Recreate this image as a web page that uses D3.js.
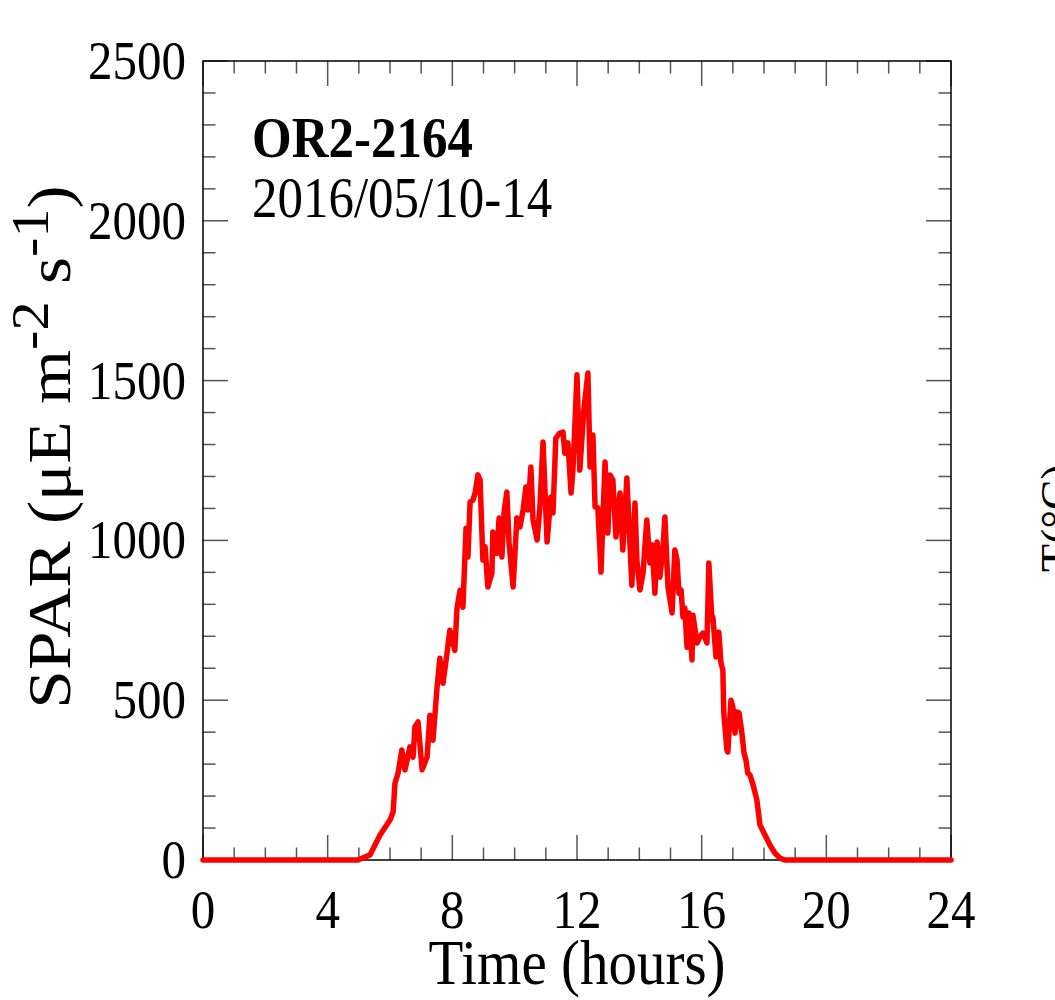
<!DOCTYPE html>
<html>
<head>
<meta charset="utf-8">
<script src="https://cdn.jsdelivr.net/npm/d3@7"></script>
<style>
  body { margin: 0; background: #fff; }
  text { font-family: "Liberation Serif", "Times New Roman", serif; fill: #000; }
</style>
</head>
<body>
<div id="chart"></div>
<script>
// time of day (hours) and SPAR readings
var hours = [0, 4.97, 5.36, 5.68, 6.00, 6.10, 6.16, 6.26, 6.38, 6.48, 6.64, 6.74, 6.80, 6.90, 7.03, 7.19, 7.28, 7.38,
  7.51, 7.60, 7.70, 7.83, 7.92, 8.08, 8.15, 8.25, 8.34, 8.44, 8.50, 8.57, 8.66, 8.73, 8.82, 8.89, 8.98, 9.05,
  9.14, 9.27, 9.30, 9.43, 9.50, 9.59, 9.66, 9.75, 9.82, 9.95, 10.07, 10.17, 10.27, 10.36, 10.43, 10.52, 10.59,
  10.72, 10.81, 10.91, 11.04, 11.16, 11.23, 11.32, 11.45, 11.55, 11.61, 11.71, 11.81, 11.87, 12.00, 12.09,
  12.22, 12.35, 12.42, 12.51, 12.58, 12.67, 12.77, 12.90, 12.99, 13.06, 13.15, 13.25, 13.38, 13.47, 13.60,
  13.76, 13.86, 13.92, 14.02, 14.12, 14.24, 14.34, 14.41, 14.50, 14.57, 14.66, 14.76, 14.82, 14.92, 15.05,
  15.14, 15.21, 15.27, 15.34, 15.40, 15.46, 15.53, 15.59, 15.69, 15.72, 15.85, 15.94, 16.04, 16.17, 16.23,
  16.33, 16.36, 16.46, 16.55, 16.62, 16.68, 16.71, 16.81, 16.84, 16.94, 17.00, 17.07, 17.13, 17.20, 17.29,
  17.36, 17.42, 17.48, 17.55, 17.65, 17.77, 17.87, 18.03, 18.19, 18.35, 18.51, 18.67, 24];
var spar = [0, 0, 16, 78, 125, 150, 240, 272, 344, 282, 354, 322, 416, 432, 282, 322, 453, 375,
  541, 631, 553, 647, 719, 656, 788, 844, 791, 1038, 948, 1120, 1126, 1148, 1205, 1189, 939, 980,
  854, 898, 1026, 960, 1070, 948, 1089, 1151, 992, 854, 1070, 1042, 1095, 1167, 1095, 1230, 1064,
  1001, 1105, 1308, 995, 1136, 1086, 1320, 1336, 1339, 1273, 1305, 1148, 1220, 1518, 1220,
  1408, 1524, 1230, 1330, 1105, 1101, 901, 1245, 1023, 1205, 1189, 1011, 1148, 970, 1195,
  860, 1117, 939, 845, 898, 1064, 929, 986, 835, 995, 885, 979, 1073, 854, 773,
  970, 939, 835, 845, 760, 788, 666, 773, 626, 766, 679, 698, 710, 679, 929,
  751, 760, 635, 713, 616, 594, 460, 344, 338, 500, 479, 397, 463, 460, 397,
  335, 313, 272, 266, 235, 188, 110, 78, 47, 22, 6, 0, 0];

var xTicks = [0, 4, 8, 12, 16, 20, 24];
var yTicks = [0, 500, 1000, 1500, 2000, 2500];
var siteName = "OR2-2164";
var dateRange = "2016/05/10-14";

var width = 1055, height = 1000;
var plotL = 203, plotR = 951, plotT = 61, plotB = 860;
var stretch = 1.12; // original figure is a bit taller than wide

var svg = d3.select("#chart").append("svg")
  .attr("width", width)
  .attr("height", height);

var x = d3.scaleLinear().domain([0, 24]).range([plotL, plotR]);
var y = d3.scaleLinear().domain([0, 2500]).range([plotB, plotT]);

var minorX = d3.range(0, 25, 1);
var minorY = d3.range(0, 2501, 100);

// ticks on all four sides, pointing inwards
function tickLen(v, step) { return v % step === 0 ? 25 : 12.5; }

var ticks = svg.append("g").attr("stroke", "#555").attr("stroke-width", 1.5);
ticks.selectAll(".tb").data(minorX).enter().append("line")
  .attr("x1", d => x(d)).attr("x2", d => x(d))
  .attr("y1", plotB).attr("y2", d => plotB - tickLen(d, 4));
ticks.selectAll(".tt").data(minorX).enter().append("line")
  .attr("x1", d => x(d)).attr("x2", d => x(d))
  .attr("y1", plotT).attr("y2", d => plotT + tickLen(d, 4));
ticks.selectAll(".tl").data(minorY).enter().append("line")
  .attr("y1", d => y(d)).attr("y2", d => y(d))
  .attr("x1", plotL).attr("x2", d => plotL + tickLen(d, 500));
ticks.selectAll(".tr").data(minorY).enter().append("line")
  .attr("y1", d => y(d)).attr("y2", d => y(d))
  .attr("x1", plotR).attr("x2", d => plotR - tickLen(d, 500));

svg.append("rect")
  .attr("x", plotL).attr("y", plotT)
  .attr("width", plotR - plotL).attr("height", plotB - plotT)
  .attr("fill", "none").attr("stroke", "#000").attr("stroke-width", 1.5);

function place(px, py) { return "translate(" + px + "," + py + ") scale(1," + stretch + ")"; }

// tick labels
svg.selectAll(".xl").data(xTicks).enter().append("text")
  .attr("transform", d => place(x(d), 928))
  .attr("text-anchor", "middle")
  .attr("font-size", 49)
  .text(d => d);
svg.selectAll(".yl").data(yTicks).enter().append("text")
  .attr("transform", d => place(186, y(d) + 18))
  .attr("text-anchor", "end")
  .attr("font-size", 49)
  .text(d => d);

// data line
var line = d3.line()
  .x((d, i) => x(hours[i]))
  .y(d => y(d));
svg.append("path")
  .datum(spar)
  .attr("d", line)
  .attr("fill", "none")
  .attr("stroke", "#ff0000")
  .attr("stroke-width", 5.5)
  .attr("stroke-linejoin", "round")
  .attr("stroke-linecap", "round");

// labels
svg.append("text")
  .attr("transform", place(252, 157))
  .attr("font-size", 51).attr("font-weight", "bold")
  .text(siteName);
svg.append("text")
  .attr("transform", place(252, 217))
  .attr("font-size", 51)
  .text(dateRange);

svg.append("text")
  .attr("transform", place(577, 984))
  .attr("text-anchor", "middle")
  .attr("font-size", 57)
  .text("Time (hours)");

var yl = svg.append("text")
  .attr("transform", place(70, 447) + " rotate(-90)")
  .attr("text-anchor", "middle")
  .attr("font-size", 62);
yl.append("tspan").text("SPAR (\u03bcE m");
yl.append("tspan").attr("dy", -22).attr("font-size", 52).text("-2");
yl.append("tspan").attr("dy", 22).text(" s");
yl.append("tspan").attr("dy", -22).attr("font-size", 52).text("-1");
yl.append("tspan").attr("dy", 22).text(")");

// axis title of the neighbouring panel, cut by the edge
svg.append("text")
  .attr("transform", "translate(1073,572) rotate(-90)")
  .attr("font-size", 46)
  .text("T(\u00b0C)");
</script>
</body>
</html>
